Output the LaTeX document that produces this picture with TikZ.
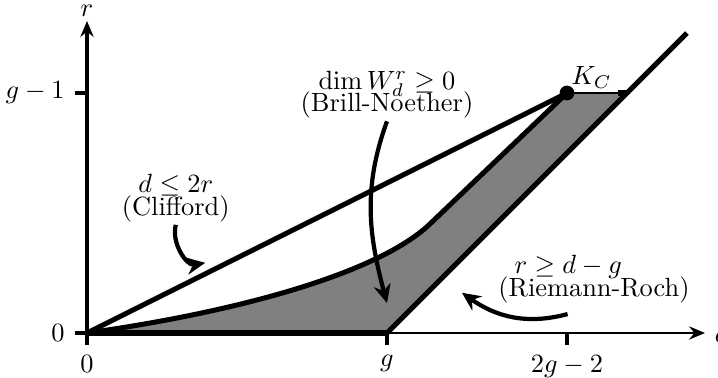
\documentclass[tikz,border=0pt]{standalone}
\usepackage{amsmath}
\usetikzlibrary{arrows.meta}

\begin{document}
\begin{tikzpicture}[>={Stealth[length=6pt, width=5pt]}, x=0.8cm, y=0.8cm,
    axis/.style={line width=0.9pt},
    tickmark/.style={line width=1.2pt},
    bound/.style={line width=1.9pt},
    hint/.style={line width=1.6pt, -{Stealth[length=7pt, width=6.5pt]}},
    note/.style={align=center, inner sep=1pt}]
    % ================= Parameters =================
    \def\g{5}          % genus, position of g on the d-axis
    \def\Xmax{10.3}    % end of the d-axis
    \def\Ymax{5.2}     % end of the r-axis
    \def\tick{0.2}     % tick length

    % Canvas
    \path[use as bounding box] (-1.45, -0.75) rectangle (10.517, 5.55);

    % Define key coordinates
    \coordinate (O) at (0,0);
    \coordinate (G) at (\g, 0);
    \coordinate (K) at ({2*\g-2}, {\g-1});
    \coordinate (T) at ({2*\g-1}, {\g-1});   % Riemann-Roch line at height g-1
    \coordinate (RRend) at ({2*\g}, {\g});
    \coordinate (B) at (5.75, 1.85);         % end of the bend of the Brill-Noether curve

    % ================= Shaded region =================
    \fill[gray] (O) .. controls (2.5, 0.35) and (4.9, 1.0) .. (B) -- (K) -- (T) -- (G) -- cycle;

    % ================= Axes & Ticks =================
    \draw[axis, ->] (-\tick, 0) -- (\Xmax, 0) node[right] (dlab) {$d$};
    \draw[axis, line width=1.5pt, ->] (0, -\tick) -- (0, \Ymax) node[above, inner sep=1pt] (rlab) {$r$};

    \draw[tickmark] (0, 0) -- (-\tick, 0) node[left] (zeroy) {$0$};
    \draw[tickmark] (0, 0) -- (0, -\tick) node[below] (zerox) {$0$};
    \draw[tickmark] (0, {\g-1}) -- ++(-\tick, 0) node[left] (gone) {$g-1$};
    \draw[tickmark] (G) -- ++(0, -\tick) node[below] (glab) {$g$};
    \draw[tickmark] ({2*\g-2}, 0) -- ++(0, -\tick) node[below] (twog) {$2g-2$};

    % ================= Boundaries =================
    \draw[bound] (O) -- (G);
    \draw[bound] (G) -- (RRend);
    \draw[bound] (O) .. controls (2.5, 0.35) and (4.9, 1.0) .. (B) -- (K);
    \draw[axis] (K) -- (T);
    \draw[bound] (T) -- ++(-0.15, 0);

    % Clifford line
    \draw[bound] (O) -- (K);

    % Canonical point
    \fill (K) circle (2.8pt);
    \node[above right, inner sep=1.5pt] (kc) at (K) {$K_C$};

    % ================= Labels & Pointers =================
    \node[note] (clifford) at (1.48, 2.25) {$d \leq 2r$\\[-3.5pt](Clifford)};
    \node[note] (bn) at (5.0, 3.975) {$\dim W^r_d \geq 0$\\[-3.5pt](Brill-Noether)};
    \node[inner sep=1pt] (rrname) at (8.45, 0.72) {(Riemann-Roch)};
    \node[inner sep=1pt] (rrineq) at (8.02, 1.1) {$r \geq d-g$};

    \coordinate (cliffend) at (1.97, 1.17);
    \coordinate (bnend) at (5.0, 0.5);
    \coordinate (rrend) at (6.25, 0.67);

    \draw[hint] (clifford.south) to[out=-105, in=190] (cliffend);
    \draw[hint] (bn.south) to[out=-110, in=105] (bnend);
    \draw[hint] ([xshift=-10pt, yshift=-3pt]rrname.south) to[out=195, in=-35] (rrend);

\end{tikzpicture}
\end{document}
